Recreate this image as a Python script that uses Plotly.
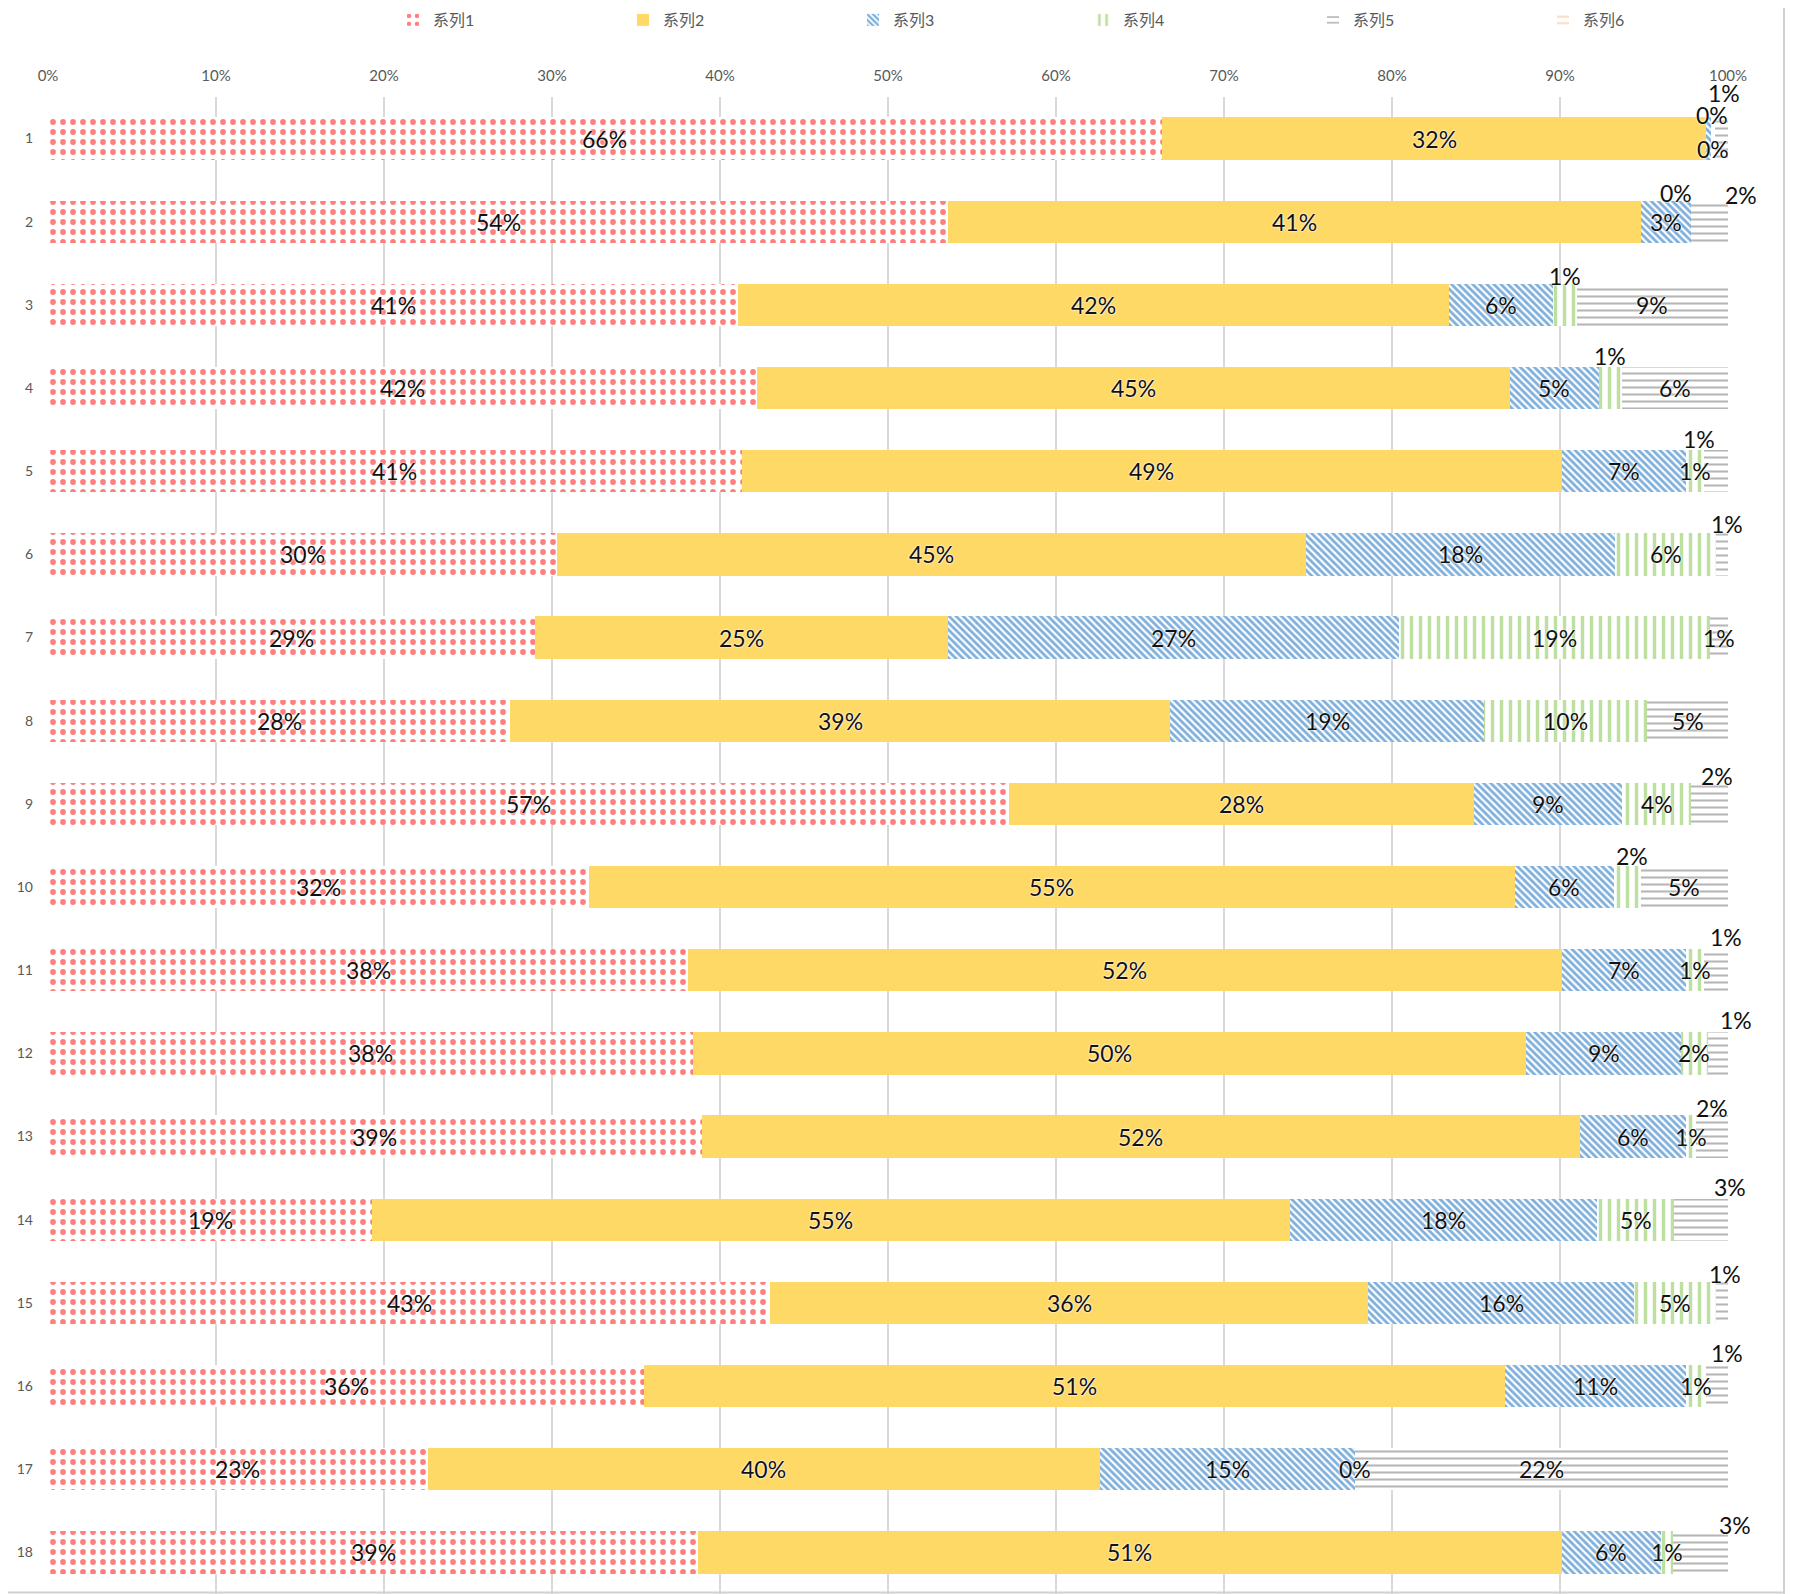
import math
import plotly.graph_objects as go

categories = [str(i) for i in range(1, 19)]
series_names = ["系列1", "系列2", "系列3", "系列4", "系列5", "系列6"]

s1 = [66.3, 53.6, 41.1, 42.2, 41.3, 30.3, 29.0, 27.5, 57.2, 32.2, 38.1, 38.4, 38.9, 19.3, 43.0, 35.5, 22.6, 38.7]
s2 = [32.4, 41.2, 42.3, 44.8, 48.8, 44.6, 24.6, 39.3, 27.7, 55.1, 52.0, 49.6, 52.3, 54.6, 35.6, 51.2, 40.0, 51.4]
s3 = [0.3, 3.0, 6.2, 5.3, 7.4, 18.4, 26.8, 18.7, 8.8, 5.9, 7.4, 9.2, 6.3, 18.3, 15.8, 10.8, 15.2, 5.9]
s4 = [0.2, 0.0, 1.4, 1.4, 1.1, 6.0, 18.5, 9.7, 4.1, 1.6, 1.1, 1.6, 0.6, 4.6, 4.9, 1.2, 0.0, 0.7]
s5 = [0.8, 2.2, 9.0, 6.3, 1.4, 0.7, 1.1, 4.8, 2.2, 5.2, 1.4, 1.2, 1.9, 3.2, 0.7, 1.3, 22.2, 3.3]
s6 = [0.0] * 18

x_ticks = list(range(0, 101, 10))
x_tick_labels = [f"{t}%" for t in x_ticks]

series_values = [s1, s2, s3, s4, s5, s6]
labelled_series = 5  # series 6 carries no data labels

# styles
styles = [
    dict(color="white", pattern=dict(shape=".", fgcolor="#FF0000", bgcolor="white", size=10, solidity=0.26)),
    dict(color="#FFD966"),
    dict(color="white", pattern=dict(shape="\\", fgcolor="#005FB8", bgcolor="white", size=5, solidity=0.55)),
    dict(color="white", pattern=dict(shape="|", fgcolor="#7CC142", bgcolor="white", size=9, solidity=0.38)),
    dict(color="white", pattern=dict(shape="-", fgcolor="#6E6E6E", bgcolor="white", size=7, solidity=0.3)),
    dict(color="white", pattern=dict(shape="-", fgcolor="#F4B183", bgcolor="white", size=8, solidity=0.3)),
]

# label offsets (pixels) for moved data labels: (row, series index) -> (xshift, yshift)
label_offsets = {
    ("1", 2): (3, 24), ("1", 3): (0, -10), ("1", 4): (3, 46),
    ("2", 3): (-15, 29), ("2", 4): (31, 27),
    ("3", 3): (0, 29), ("4", 3): (0, 32),
    ("5", 4): (-17, 32), ("6", 4): (5, 30), ("9", 4): (7, 28),
    ("10", 3): (5, 31), ("11", 4): (10, 33), ("12", 4): (18, 33),
    ("13", 4): (0, 29), ("14", 4): (29, 33), ("15", 4): (3, 29),
    ("16", 4): (10, 33), ("18", 4): (35, 27),
}

FONT = "Lato, 'Noto Sans CJK SC', sans-serif"

W, H = 1787, 1586          # page body has an 8px margin
L, T, PW, PH = 40, 89, 1680, 1497

fig = go.Figure()
for name, vals, st in zip(series_names, series_values, styles):
    marker = dict(color=st["color"], line=dict(width=0))
    if "pattern" in st:
        marker["pattern"] = st["pattern"]
    fig.add_trace(go.Bar(
        name=name, y=categories, x=vals, orientation="h", marker=marker,
        hoverinfo="x+y+name",
    ))

annotations = []
cum = [0.0] * len(categories)
for si in range(labelled_series):
    vals = series_values[si]
    for ri, cat in enumerate(categories):
        v = vals[ri]
        center = cum[ri] + v / 2
        cum[ri] += v
        dx, dy = label_offsets.get((cat, si), (0, 0))
        annotations.append(dict(
            x=center, y=ri, xref="x", yref="y",
            text=f"{math.floor(v + 0.5)}%", showarrow=False,
            xshift=dx, yshift=dy,
            font=dict(family=FONT, size=23, color="#111111",
                      shadow="0px 0px 2px #ffffff, 0px 0px 2px #ffffff"),
        ))

frame_x = (1776 - L) / PW

fig.update_layout(
    barmode="stack",
    bargap=0.49,
    width=W, height=H,
    margin=dict(l=L, r=W - L - PW, t=T, b=H - T - PH, autoexpand=False),
    paper_bgcolor="white", plot_bgcolor="white",
    font=dict(family=FONT, color="#595959"),
    annotations=annotations,
    showlegend=True,
    legend=dict(
        orientation="h", xref="container", yref="container",
        x=385 / W, y=1 - 12 / H, xanchor="left", yanchor="middle",
        entrywidth=185, entrywidthmode="pixels", itemwidth=30,
        font=dict(size=16, color="#595959", family=FONT),
        traceorder="normal",
    ),
    xaxis=dict(
        side="top", range=[0, 100], tickvals=x_ticks, ticktext=x_tick_labels,
        showgrid=True, gridcolor="#D9D9D9", gridwidth=1.5, zeroline=False,
        showline=False, ticks="", tickfont=dict(size=15, color="#595959"),
        ticklabelstandoff=12, fixedrange=True, automargin=False,
    ),
    yaxis=dict(
        categoryorder="array", categoryarray=categories, range=[17.5, -0.5],
        showgrid=False, zeroline=False, showline=False, ticks="",
        tickfont=dict(size=14, color="#595959"), ticklabelstandoff=14,
        automargin=False,
    ),
    shapes=[
        dict(type="line", xref="paper", yref="paper", x0=frame_x, x1=frame_x,
             y0=0, y1=(PH + T) / PH, line=dict(color="#D0D0D0", width=2)),
        dict(type="line", xref="paper", yref="paper", x0=-L / PW, x1=frame_x,
             y0=0.001, y1=0.001, line=dict(color="#D0D0D0", width=2)),
    ],
)

fig.write_html("out.html")
